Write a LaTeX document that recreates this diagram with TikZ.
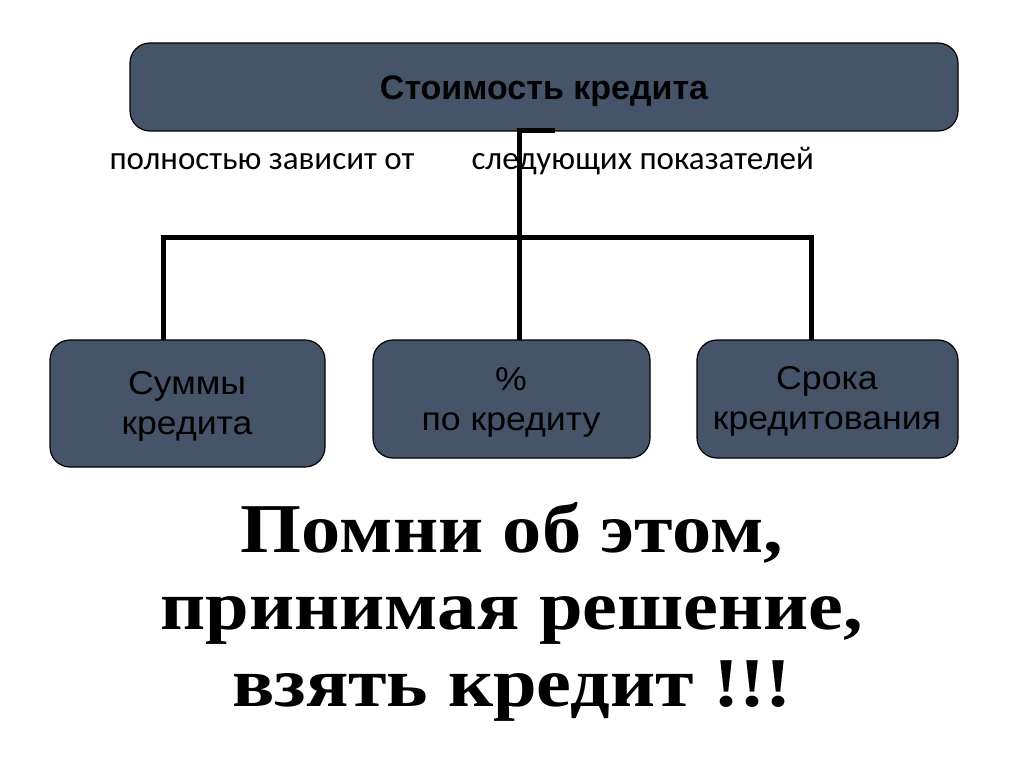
\documentclass[tikz,border=0pt]{standalone}
\usepackage{fontspec}
\setmainfont{Liberation Sans}
\newfontfamily\calfont{Carlito}
\newfontfamily\serfont{Liberation Serif}
\definecolor{boxfill}{HTML}{465469}
\tikzset{
  x=1pt, y=-1pt,
  box/.style={draw=black, line width=1.2pt, fill=boxfill, rounded corners=20pt},
  conn/.style={line width=5pt, line cap=butt},
  boxtext/.style={font=\fontsize{33}{40}\selectfont, align=center, text=black, xscale=1.08},
  note/.style={font=\calfont\fontsize{33}{36}\selectfont, anchor=base west},
  big/.style={font=\serfont\bfseries\fontsize{70}{77}\selectfont, align=center, xscale=1.12}
}
\begin{document}
\begin{tikzpicture}
\useasboundingbox (0,0) rectangle (1024,767);
% boxes
\draw[box] (130,43) rectangle (958,131);
\node[font=\bfseries\fontsize{34}{40}\selectfont] (top) at (544,91) {Стоимость кредита};
\coordinate (topb) at (519,131);
\draw[box] (50,340) rectangle (325,467);
\draw[box] (373,340) rectangle (650,458);
\draw[box] (697,340) rectangle (958,458);
\coordinate (lt) at (163,340);
\coordinate (mt) at (519,340);
\coordinate (rt) at (811,340);
\node[boxtext] (l) at (187,406) {Суммы\\кредита};
\node[boxtext] (m) at (511,402) {\%\\по кредиту};
\node[boxtext] (r) at (827,401) {Срока\\кредитования};
% connectors
\coordinate (tick) at (555,131);
\coordinate (hl) at (163,237);
\coordinate (hr) at (811,237);
\coordinate (hm) at (519,237);
\draw[conn] (topb) -- (mt);
\draw[conn] ([xshift=-2.5pt]topb) -- (tick);
\draw[conn] ([xshift=-2.5pt]hl) -- ([xshift=2.5pt]hr);
\draw[conn] (hl) -- (lt);
\draw[conn] (hr) -- (rt);
% notes
\node[note] (n1) at (106,170) {полностью зависит от};
\node[note] (n2) at (468,170) {следующих показателей};
% bottom text
\node[big] (msg) at (512,612) {Помни об этом,\\принимая решение,\\взять кредит !!!};
\end{tikzpicture}
\end{document}
